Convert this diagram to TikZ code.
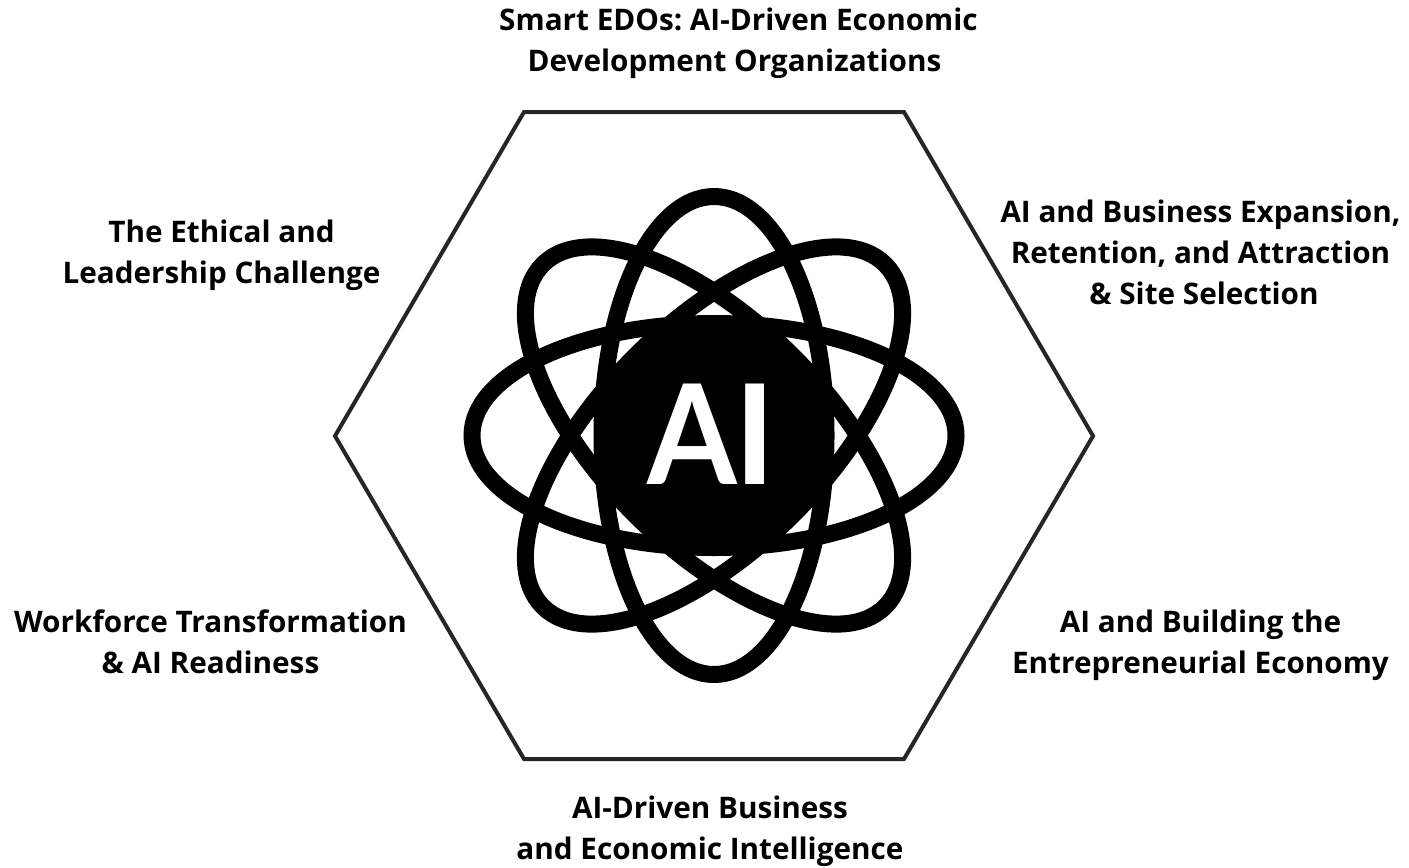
\documentclass[tikz,border=0pt]{standalone}
\usepackage{fontspec}
\setmainfont{Open Sans}
\newfontfamily\aifont{Lato}
\tikzset{lab/.style={align=center,font=\fontsize{29.7bp}{41bp}\selectfont\bfseries\frenchspacing,text=black,inner sep=0pt},
orbit/.style={draw=black,line width=17bp}}
\begin{document}
\begin{tikzpicture}[x=1bp,y=-1bp]
\useasboundingbox (0,0) rectangle (1409,867);
\fill[white] (0,0) rectangle (1409,867);
\draw[line width=4bp,color=black!85,line join=miter] (524,112)--(904,112)--(1093,436)--(904,759)--(524,759)--(335,436)--cycle;
\begin{scope}[shift={(714,435.5)}]
\fill (0,0) circle[radius=112];
\draw[orbit] (0,0) circle[x radius=242,y radius=112];
\draw[orbit,rotate=45] (0,0) circle[x radius=242,y radius=112];
\draw[orbit,rotate=90] (0,0) circle[x radius=239,y radius=112];
\draw[orbit,rotate=135] (0,0) circle[x radius=242,y radius=112];
\end{scope}
\node[text=white,font=\aifont\fontsize{139bp}{139bp}\selectfont\bfseries,inner sep=0pt] (ai) at (711.5,434) {\scalebox{0.93}[1]{A}\kern-3bp I};
\node[lab] (t1) at (738.5,43.5) {Smart EDOs: AI-Driven Economic\\Development Organizations\hspace*{8bp}};
\node[lab] (t2) at (1200.5,252) {AI and Business Expansion,\\Retention, and Attraction\\\hspace*{7bp}\& Site Selection};
\node[lab] (t3) at (1200.5,645.5) {AI and Building the\\Entrepreneurial Economy};
\node[lab] (t4) at (710,831) {AI-Driven Business\\and Economic Intelligence};
\node[lab] (t5) at (210.5,642) {Workforce Transformation\\\& AI Readiness};
\node[lab] (t6) at (221.5,255) {The Ethical and\\Leadership Challenge};
\end{tikzpicture}
\end{document}
